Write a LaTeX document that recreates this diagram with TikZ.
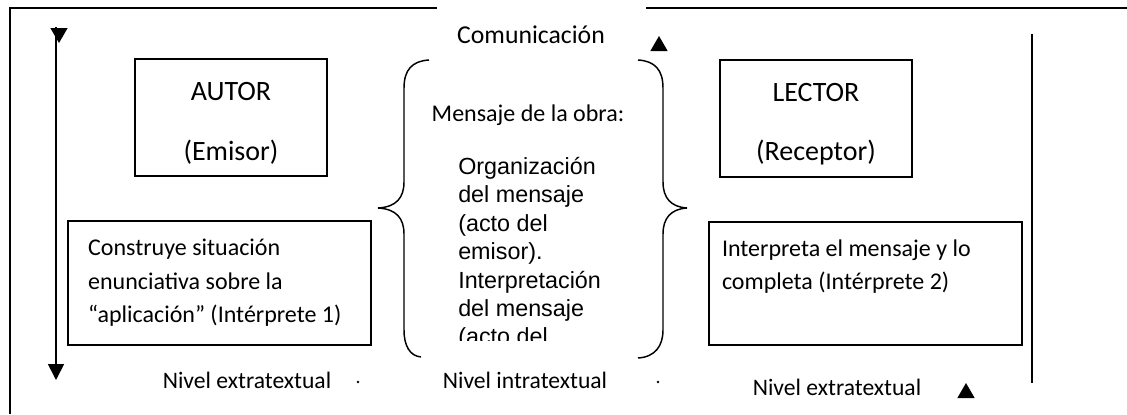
\documentclass[tikz,border=0pt]{standalone}
\usepackage{fontspec}
\setmainfont{Carlito}
\newfontfamily\arialfont{Liberation Sans}
\usepackage{tikz}
\usetikzlibrary{arrows.meta}
\usetikzlibrary{shapes.geometric}
\newcommand{\fs}[1]{\fontsize{#1}{1.2\dimexpr #1pt\relax}\selectfont}

\tikzset{
  caja/.style={draw, line width=1.2pt, inner sep=0pt},
  marca/.style={fill=black, regular polygon, regular polygon sides=3, minimum size=15pt, inner sep=0pt},
  llave/.style={line width=1.1pt},
  nivel/.style={font=\fs{17.7}},
}

\begin{document}
\begin{tikzpicture}[x=0.75pt, y=-0.75pt, >={Triangle[width=12pt,length=12pt]}]
\useasboundingbox (0,0) rectangle (1127,414);

% marco
\draw[line width=1.3pt] (10,414) -- (10,8) -- (437,8);
\draw[line width=1.3pt] (646,8) -- (1127,8);

% eje de la izquierda
\coordinate (ejesup) at (56,27);
\coordinate (ejeinf) at (56,380);
\draw[line width=1.3pt, ->] (ejesup) -- (ejeinf);
\node[marca, shape border rotate=180] (trisup) at (59,33) {};

% linea de la derecha
\draw[line width=1.3pt] (1032,34) -- (1032,383);

\node[font=\fs{19.3}] (comunic) at (531,35) {Comunicación};
\node[marca] (tricom) at (659,46) {};

% cajas
\node[caja, minimum width=144pt, minimum height=87.75pt, align=center,
      font=\fontsize{21}{25}\selectfont] (autor) at (231,117.5)
      {\rule{0pt}{22.5pt}AUTOR\\[19.5pt](Emisor)};
\node[caja, minimum width=144pt, minimum height=87.75pt, align=center,
      font=\fontsize{21}{25}\selectfont] (lector) at (816,118.5)
      {\rule{0pt}{22.5pt}LECTOR\\[19.5pt](Receptor)};

\node[caja, inner xsep=15pt, text width=197pt, minimum height=93pt, align=flush left,
      font=\fontsize{18}{25}\selectfont] (construye) at (219.5,283)
      {Construye situación\\enunciativa sobre la\\“aplicación” (Intérprete 1)};
\node[caja, inner xsep=9.75pt, text width=215.25pt, minimum height=92.25pt, align=flush left,
      font=\fontsize{18}{25}\selectfont] (interpreta) at (865.5,283.5)
      {Interpreta el mensaje y lo\\completa (Intérprete 2)\\[3pt] \mbox{}};

% llaves
\draw[llave] (429,60) .. controls (412,61) and (404,70) .. (404,88) -- (404,182)
  .. controls (404,198) and (396,207) .. (378,208)
  .. controls (396,209) and (404,218) .. (404,234) -- (404,330)
  .. controls (404,346) and (410,356) .. (421,357);
\draw[llave] (638,60) .. controls (655,61) and (663,70) .. (663,88) -- (663,182)
  .. controls (663,198) and (671,207) .. (687,208)
  .. controls (671,209) and (663,218) .. (663,234) -- (663,330)
  .. controls (663,346) and (655,357) .. (638,358);

\node[font=\fs{18}] (mensaje) at (528,115) {Mensaje de la obra:};
\begin{scope}
\clip (440,140) rectangle (640,340);
\node[anchor=north west, inner sep=0pt, align=left,
      font=\arialfont\fontsize{17.5}{21.3}\selectfont] (organiz) at (458,157)
      {Organización\\del mensaje\\(acto del\\emisor).\\Interpretación\\del mensaje\\(acto del};
\end{scope}

% niveles
\node[nivel] (nivizq) at (247,380) {Nivel extratextual};
\node[nivel] (nivcen) at (525,380) {Nivel intratextual};
\node[nivel] (nivder) at (837,387) {Nivel extratextual};
\fill (358,382) circle [radius=1pt];
\fill (658,382) circle [radius=1pt];
\node[marca] (triinf) at (966,393) {};
\end{tikzpicture}
\end{document}
